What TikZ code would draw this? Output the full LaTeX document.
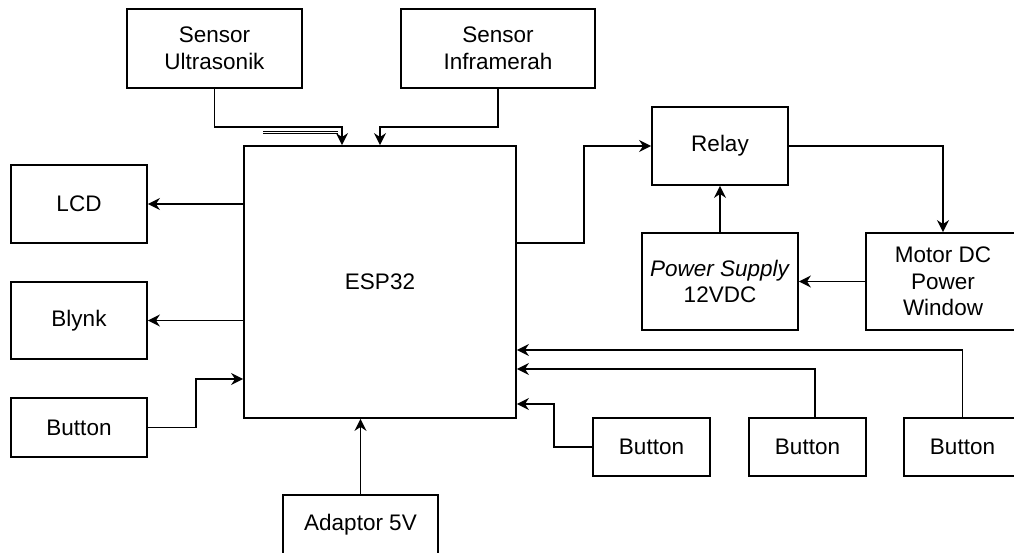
\documentclass[tikz,border=0pt]{standalone}
\usepackage{fontspec}
\setmainfont{Liberation Sans}
\usetikzlibrary{arrows.meta}

\begin{document}
\begin{tikzpicture}[x=1pt, y=-1pt, >={Stealth[length=12pt, width=12pt]},
        box/.style={draw, line width=1.8pt, inner sep=0pt, align=center, font=\fontsize{22.5}{26.5}\selectfont},
        wire/.style={->, line width=1.8pt}]
        \useasboundingbox (0,0) rectangle (1014,553);
        \clip (0,0) rectangle (1014,553);

        \node[box, minimum width=272pt, minimum height=272pt] (E) at (380, 282) {ESP32};
        \node[box, minimum width=175pt, minimum height=79pt] (U) at (214.5, 48.5) {Sensor\\Ultrasonik};
        \node[box, minimum width=194pt, minimum height=79pt] (I) at (498, 48.5) {Sensor\\Inframerah};
        \node[box, minimum width=136pt, minimum height=78pt] (L) at (79, 204) {LCD};
        \node[box, minimum width=136pt, minimum height=77pt] (Bl) at (79, 320.5) {Blynk};
        \node[box, minimum width=136pt, minimum height=59pt] (B0) at (79, 427.5) {Button};
        \node[box, minimum width=155pt, minimum height=60pt] (Ad) at (360.5, 525) {Adaptor 5V};
        \node[box, minimum width=136pt, minimum height=78pt] (R) at (720, 146) {Relay};
        \node[box, minimum width=156pt, minimum height=97pt] (P) at (720, 281.5) {\textit{Power Supply}\\12VDC};
        \node[box, minimum width=154pt, minimum height=97pt] (M) at (943, 281.5) {Motor DC\\Power\\Window};
        \foreach \n/\x in {1/651.5, 2/807.5, 3/962.5} {
            \node[box, minimum width=117pt, minimum height=58pt] (B\n) at (\x, 447) {Button};
        }

        \draw[wire] (U.south) -- ++(0,38) -| ([xshift=-38pt]E.north);
        \draw[wire] (I.south) -- ++(0,38) -| (E.north);
        \draw[double, double distance=1.5pt, line width=1pt] (263,132.5) -- (338,132.5);

        \draw[wire] (E.west |- L.east) -- (L.east);
        \draw[wire] (E.west |- Bl.east) -- (Bl.east);
        \draw[wire] (B0.east) -- ++(48,0) |- ([yshift=-97pt]E.west);
        \draw[wire] (Ad.north) -- (Ad.north |- E.south);

        \draw[wire] ([yshift=39pt]E.east) -- ++(67,0) |- (R.west);
        \draw[wire] (P.north) -- (R.south);
        \draw[wire] (R.east) -| (M.north);
        \draw[wire] (M.west) -- (P.east);

        \draw[wire] (B1.west) -- ++(-38,0) |- ([yshift=-122pt]E.east);
        \draw[wire] ([xshift=7.5pt]B2.north) |- ([yshift=-87pt]E.east);
        \draw[wire] (B3.north) |- ([yshift=-68pt]E.east);
\end{tikzpicture}
\end{document}
